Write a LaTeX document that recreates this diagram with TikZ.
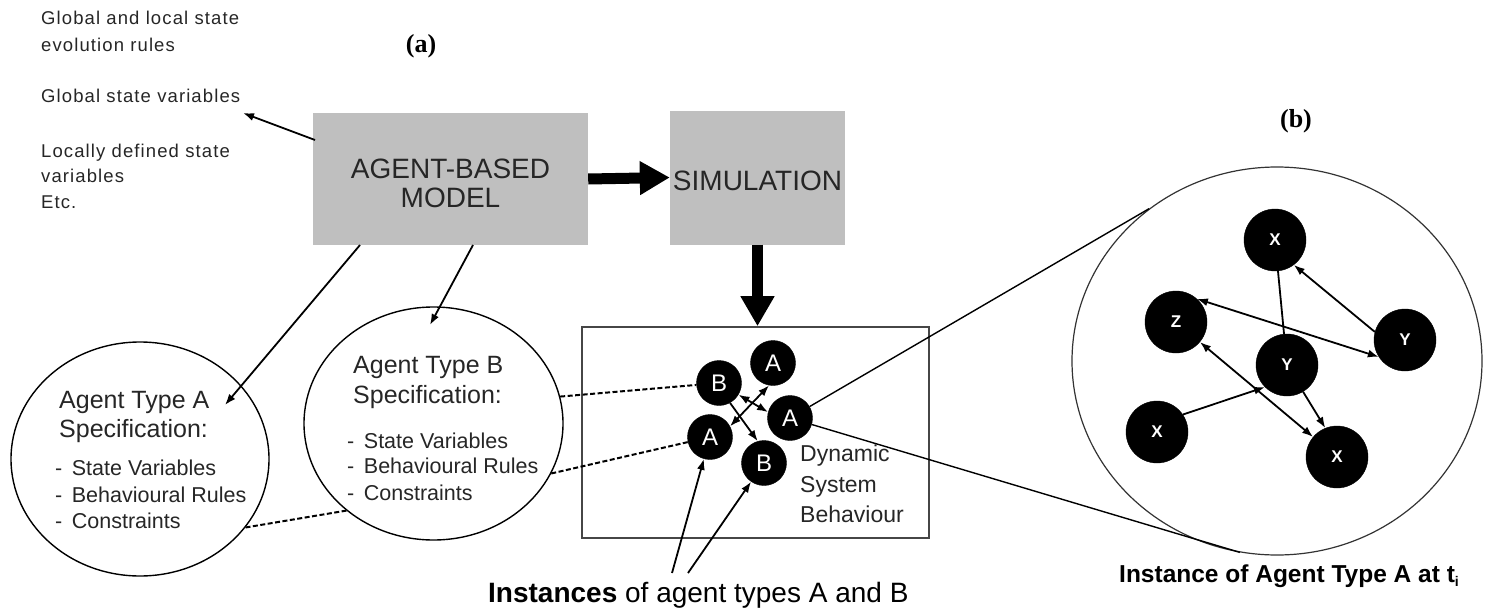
\documentclass[tikz,border=0pt]{standalone}
\usepackage{fontspec}
\setmainfont{Liberation Sans}
\newfontfamily\tagserif{Liberation Serif}
\newfontfamily\widesans[LetterSpace=6]{Liberation Sans}
\usetikzlibrary{arrows.meta,shapes.geometric}
\definecolor{boxgray}{RGB}{191,191,191}
\definecolor{framegray}{RGB}{70,70,70}

\begin{document}
\begin{tikzpicture}[x=1pt,y=-1pt,
  note/.style={anchor=base west,inner sep=0pt,text=black!85,font=\widesans\fontsize{18.5}{20}\selectfont},
  stagebox/.style={rectangle,fill=boxgray,draw=none,inner sep=0pt},
  stagetext/.style={anchor=base,inner sep=0pt,text=black!85,font=\fontsize{28}{30}\selectfont},
  spec/.style={ellipse,draw=black,line width=1.4pt,inner sep=0pt},
  spectitle/.style={anchor=base west,inner sep=0pt,text=black!85,font=\fontsize{25}{30}\selectfont},
  specitem/.style={anchor=base west,inner sep=0pt,text=black!85,font=\fontsize{21.5}{25}\selectfont},
  agent/.style={circle,fill=black,draw=black,minimum size=45pt,inner sep=0pt,text=white,font=\fontsize{24}{24}\selectfont},
  member/.style={circle,fill=black,draw=black,minimum size=62pt,inner sep=0pt,text=white,font=\bfseries\fontsize{17}{17}\selectfont},
  link/.style={draw=black,line width=1.8pt,-{Latex[length=11pt,width=8pt]}},
  duallink/.style={draw=black,line width=1.8pt,{Latex[length=11pt,width=8pt]}-{Latex[length=11pt,width=8pt]}},
  plainlink/.style={draw=black,line width=1.8pt},
  dashlink/.style={draw=black,line width=2pt,dash pattern=on 5pt off 2.5pt},
  zoomline/.style={draw=black,line width=1.4pt},
  bigarrow/.style={draw=black,line width=11pt,-{Triangle[length=30pt,width=32pt]}},
  tag/.style={inner sep=0pt,anchor=base,font=\tagserif\bfseries\fontsize{26}{26}\selectfont}
]
\useasboundingbox (0,0) rectangle (1491,610);

% ---- left-hand notes ----
\node[note] (n1) at (41,25) {Global and local state};
\node[note] (n2) at (41,52) {evolution rules};
\node[note] (n3) at (41,102) {Global state variables};
\node[note] (n4) at (41,157) {Locally defined state};
\node[note] (n5) at (41,182) {variables};
\node[note] (n6) at (41,208) {Etc.};

\node[tag] (taga) at (421,53) {(a)};
\node[tag] (tagb) at (1296,127) {(b)};

% ---- model and simulation stages ----
\node[stagebox,minimum width=275pt,minimum height=132pt] (abm) at (450.5,179) {};
\node[stagetext] at (450.5,178) {AGENT-BASED};
\node[stagetext] at (450.5,207) {MODEL};

\node[stagebox,minimum width=175pt,minimum height=134pt] (sim) at (757.5,177.5) {};
\node[stagetext] at (757.5,190) {SIMULATION};

\node[rectangle,draw=framegray,line width=1.6pt,minimum width=347pt,minimum height=211pt,inner sep=0pt] (dyn) at (755.5,432.5) {};

\draw[bigarrow] (abm.east) -- (sim.west);
\draw[bigarrow] (sim.south) -- (sim.south |- dyn.north);

% ---- agent type specifications ----
\node[spec,minimum width=258pt,minimum height=234pt] (specA) at (140,459) {};
\node[spec,minimum width=259pt,minimum height=233pt] (specB) at (433.5,423.5) {};

\node[spectitle] at (59,408) {Agent Type A};
\node[spectitle] at (59,437) {Specification:};
\node[specitem] at (55,475) {-\, State Variables};
\node[specitem] at (55,502) {-\, Behavioural Rules};
\node[specitem] at (55,528) {-\, Constraints};

\node[spectitle] at (353,373) {Agent Type B};
\node[spectitle] at (353,403) {Specification:};
\node[specitem] at (347,448) {-\, State Variables};
\node[specitem] at (347,473) {-\, Behavioural Rules};
\node[specitem] at (347,500) {-\, Constraints};

\coordinate (abmleft) at (315,140);
\coordinate (gsv) at (243,113);
\coordinate (abmA) at (360,245);
\coordinate (tipA) at (225,405);
\coordinate (abmB) at (473,245);
\coordinate (tipB) at (430,325);
\draw[link] (abmleft) -- (gsv);
\draw[link] (abmA) -- (tipA);
\draw[link] (abmB) -- (tipB);

\draw[dashlink] (specA.-33) -- (specB.225);

% ---- agent instances in the running system ----
\node[agent] (b1) at (719,383) {B};
\node[agent] (a1) at (773,363) {A};
\node[agent] (a2) at (790,418) {A};
\node[agent] (a3) at (710,437) {A};
\node[agent] (b2) at (764,463) {B};

\draw[link] (b1.-61) -- (b2.106);
\draw[duallink] (a1.-100) -- (a3.28);
\draw[duallink] (b1.-31) -- (a2.165);

\draw[dashlink] (specB.12) -- (b1);
\draw[dashlink] (specB.-23) -- (a3);

\node[anchor=base west,inner sep=0pt,text=black!85,font=\fontsize{23}{23}\selectfont] (dl1) at (800,461) {Dynamic};
\node[anchor=base west,inner sep=0pt,text=black!85,font=\fontsize{23}{23}\selectfont] (dl2) at (800,492) {System};
\node[anchor=base west,inner sep=0pt,text=black!85,font=\fontsize{23}{23}\selectfont] (dl3) at (800,522) {Behaviour};

\coordinate (c1) at (672,573);
\coordinate (c2) at (688,573);
\draw[link] (c1) -- (a3);
\draw[link] (c2) -- (b2);

\node[anchor=base west,inner sep=0pt,font=\fontsize{28}{30}\selectfont] (cap1) at (488,602) {\textbf{Instances} of agent types A and B};

% ---- magnified view of one agent ----
\node[ellipse,draw=black!80,line width=1.2pt,minimum width=410pt,minimum height=388pt,inner sep=0pt] (zoomc) at (1277,361) {};
\draw[zoomline] (a2) -- (zoomc.130);
\draw[zoomline] (a2) -- (zoomc.259);

\node[member] (xt) at (1275,240) {X};
\node[member] (z)  at (1176,322) {Z};
\node[member] (yr) at (1405,340) {Y};
\node[member] (yc) at (1287,365) {Y};
\node[member] (xl) at (1157,432) {X};
\node[member] (xb) at (1337,457) {X};

\draw[plainlink] (xt) -- (yc);
\draw[link] (yr.165) -- (xt.-53);
\draw[duallink] (z.48) -- (yr.213);
\draw[duallink] (z) -- (xb);
\draw[link] (xl.34) -- (yc.225);
\draw[link] (yc.-59) -- (xb.112);

\node[anchor=base west,inner sep=0pt,font=\bfseries\fontsize{24.5}{26}\selectfont] (cap2) at (1119,582) {Instance of Agent Type A at t\raisebox{-4pt}{\fontsize{14}{14}\selectfont i}};
\end{tikzpicture}
\end{document}
